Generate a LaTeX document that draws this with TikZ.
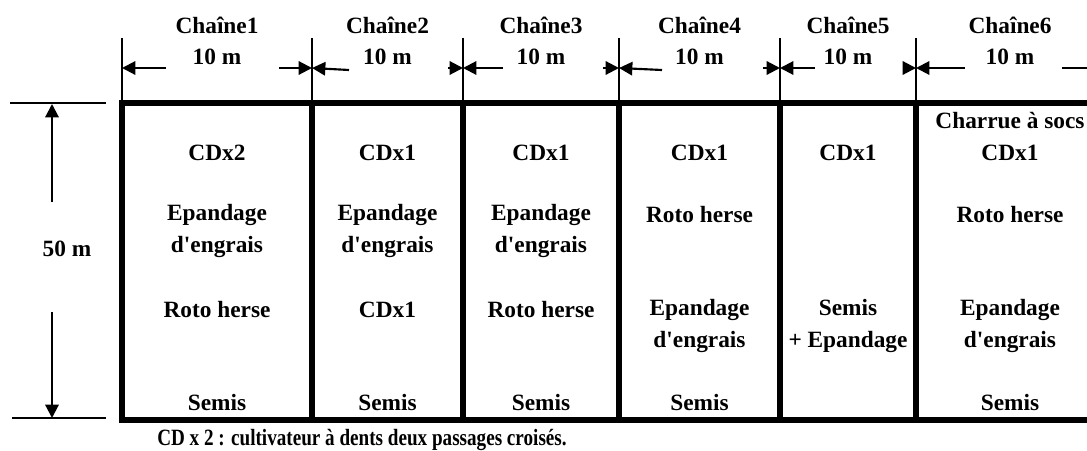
\documentclass[tikz,border=0pt]{standalone}
\usepackage{fontspec}
\setmainfont{Liberation Serif}
\usetikzlibrary{arrows.meta}
\newcommand{\apos}{\textquotesingle}
\begin{document}
\begin{tikzpicture}[x=0.75pt,y=-0.75pt,
  lbl/.style={font=\bfseries\fontsize{17.5}{24}\selectfont, align=center, inner sep=0pt},
  captxt/.style={font=\bfseries\fontsize{17.5}{24}\selectfont, inner sep=0pt},
  tick/.style={line width=0.9pt},
  border/.style={line width=4.5pt},
  dimarrow/.style={line width=1.6pt, -{Triangle[length=10pt,width=10pt]}}]
\useasboundingbox (0,0) rectangle (1087,450);
\clip (0,0) rectangle (1087,450);

% column boundaries
\foreach \n/\x in {0/122,1/312,2/463,3/619,4/780,5/916}{
  \coordinate (t\n) at (\x,38);
  \coordinate (m\n) at (\x,68);
  \coordinate (b\n) at (\x,100);
  \draw[tick] (t\n) -- (b\n);
}
\coordinate (m6) at (1105,68);

% dimension arrows (top)
\coordinate (l1) at (166,68);  \coordinate (r1) at (279,68);
\coordinate (l2) at (349,70);  \coordinate (r2) at (448,68);
\coordinate (l3) at (503,68);  \coordinate (r3) at (603,68);
\coordinate (l4) at (662,70);  \coordinate (r4) at (763,68);
\coordinate (l5) at (815,68);  \coordinate (r5) at (905,68);
\coordinate (l6) at (965,68);  \coordinate (r6) at (1062,68);
\foreach \i/\a/\b in {1/0/1,2/1/2,3/2/3,4/3/4,5/4/5,6/5/6}{
  \draw[dimarrow] (l\i) -- (m\a);
  \draw[dimarrow] (r\i) -- (m\b);
}

% headers
\foreach \i/\x in {1/217,2/387.5,3/541,4/699.5,5/848,6/1010}{
  \node[lbl] (h\i) at (\x,25) {Chaîne\i};
  \node[lbl] (d\i) at (\x,57) {10 m};
}

% plot rectangle (open on the right)
\coordinate (TL) at (122,103);
\coordinate (BL) at (122,420);
\coordinate (TR) at (1100,103);
\coordinate (BR) at (1100,420);
\draw[border] (TR) -- (TL) -- (BL) -- (BR);
\foreach \x in {312,463,619,780,916}{
  \draw[border] (\x,103) -- (\x,420);
}

% left dimension
\coordinate (hl1) at (10,103);  \coordinate (hr1) at (106,103);
\coordinate (hl2) at (12,418);  \coordinate (hr2) at (106,418);
\draw[tick] (hl1) -- (hr1);
\draw[tick] (hl2) -- (hr2);
\coordinate (vu) at (52,202); \coordinate (vut) at (52,104);
\coordinate (vd) at (52,312); \coordinate (vdt) at (52,418);
\draw[dimarrow] (vu) -- (vut);
\draw[dimarrow] (vd) -- (vdt);
\node[lbl] (h50) at (67,249) {50 m};

% column 1
\node[lbl] (c1a) at (217,153) {CDx2};
\node[lbl] (c1b) at (217,231) {Epandage\\d\apos engrais};
\node[lbl] (c1c) at (217,310) {Roto herse};
\node[lbl] (c1d) at (217,403) {Semis};
% column 2
\node[lbl] (c2a) at (387.5,153) {CDx1};
\node[lbl] (c2b) at (387.5,231) {Epandage\\d\apos engrais};
\node[lbl] (c2c) at (387.5,310) {CDx1};
\node[lbl] (c2d) at (387.5,403) {Semis};
% column 3
\node[lbl] (c3a) at (541,153) {CDx1};
\node[lbl] (c3b) at (541,231) {Epandage\\d\apos engrais};
\node[lbl] (c3c) at (541,310) {Roto herse};
\node[lbl] (c3d) at (541,403) {Semis};
% column 4
\node[lbl] (c4a) at (699.5,153) {CDx1};
\node[lbl] (c4b) at (699.5,215) {Roto herse};
\node[lbl] (c4c) at (699.5,326) {Epandage\\d\apos engrais};
\node[lbl] (c4d) at (699.5,403) {Semis};
% column 5
\node[lbl] (c5a) at (848,153) {CDx1};
\node[lbl] (c5b) at (848,326) {Semis\\+ Epandage};
% column 6
\node[lbl] (c6a) at (1010,137) {Charrue à socs\\CDx1};
\node[lbl] (c6b) at (1010,215) {Roto herse};
\node[lbl] (c6c) at (1010,326) {Epandage\\d\apos engrais};
\node[lbl] (c6d) at (1010,403) {Semis};

% caption
\node[captxt] (note) at (362,440) {\scalebox{0.82}[1]{CD x 2 : cultivateur à dents deux passages croisés.}};
\end{tikzpicture}
\end{document}
